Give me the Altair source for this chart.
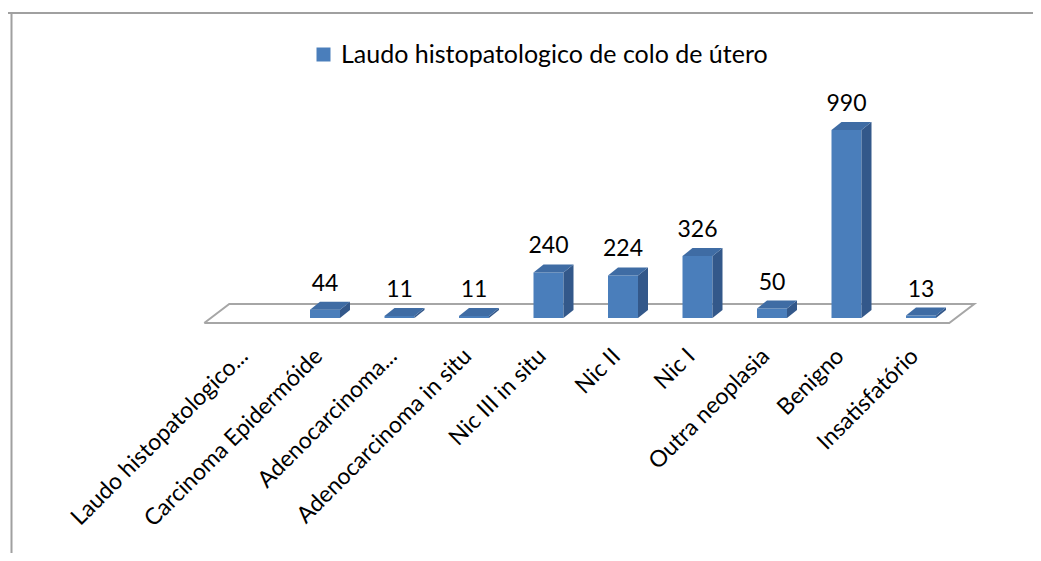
import altair as alt
import pandas as pd

# ---------------- data ----------------
categories = [
    "Laudo histopatologico...",
    "Carcinoma Epidermóide",
    "Adenocarcinoma...",
    "Adenocarcinoma in situ",
    "Nic III in situ",
    "Nic II",
    "Nic I",
    "Outra neoplasia",
    "Benigno",
    "Insatisfatório",
]
values = [None, 44, 11, 11, 240, 224, 326, 50, 990, 13]
series_name = "Laudo histopatologico de colo de útero"

# ---------------- layout constants ----------------
W, H = 1025, 545
STEP = 74.5      # px per category
FIRST = 242.5    # px of first category centre in the view
BASE = 310       # px of value 0 in the view
K = 0.1899       # px per unit of value
HW = 15          # half width of bar front (px)
DX, DY = 10, 8   # 3-D depth of bars (px)

PXX = 1.0 / STEP
PXY = 1.0 / K
x_dom = [-FIRST / STEP, (W - FIRST) / STEP]
e0 = -(H - BASE) / K
y_dom = [e0, e0 + H / K]

xs = alt.Scale(domain=x_dom, nice=False, zero=False)
ys = alt.Scale(domain=y_dom, nice=False, zero=False)

FONT = "Lato"
FRONT = "#4a7ebb"
TOP = "#3f6ca4"
SIDE = "#33588a"
FLOOR = "#a6a6a6"

# ---------------- tables ----------------
front_rows, side_rows, top_rows, lab_rows, cat_rows = [], [], [], [], []
for i, (c, v) in enumerate(zip(categories, values)):
    cat_rows.append({"i": i, "cat": c, "ly": -27 * PXY, "lx": i - 14 * PXX})
    if v is None:
        continue
    front_rows.append({"x": i - HW * PXX, "x2": i + HW * PXX, "y": 0, "y2": v,
                       "series": series_name})
    side_rows.append({"id": i, "xa": i + HW * PXX, "lo": 0, "hi": v})
    side_rows.append({"id": i, "xa": i + (HW + DX) * PXX, "lo": DY * PXY, "hi": v + DY * PXY})
    top_rows.append({"id": i, "yy": v, "xl": i - HW * PXX, "xr": i + HW * PXX})
    top_rows.append({"id": i, "yy": v + DY * PXY, "xl": i + (DX - HW) * PXX,
                     "xr": i + (HW + DX) * PXX})
    lab_rows.append({"x": i, "y": v, "label": str(v)})

n = len(categories)
floor_rows = [
    {"o": 0, "x": -0.5 - 9 * PXX, "y": -5 * PXY},
    {"o": 1, "x": -0.5 + 16 * PXX, "y": 14 * PXY},
    {"o": 2, "x": n - 0.5 + 16 * PXX, "y": 14 * PXY},
    {"o": 3, "x": n - 0.5 - 9 * PXX, "y": -5 * PXY},
    {"o": 4, "x": -0.5 - 9 * PXX, "y": -5 * PXY},
]

front_df = pd.DataFrame(front_rows)
side_df = pd.DataFrame(side_rows)
top_df = pd.DataFrame(top_rows)
lab_df = pd.DataFrame(lab_rows)
cat_df = pd.DataFrame(cat_rows)
floor_df = pd.DataFrame(floor_rows)

# ---------------- layers ----------------
floor = alt.Chart(floor_df).mark_line(color=FLOOR, strokeWidth=2).encode(
    x=alt.X("x:Q", scale=xs, axis=None),
    y=alt.Y("y:Q", scale=ys, axis=None),
    order="o:Q",
)

front = alt.Chart(front_df).mark_rect(strokeWidth=0).encode(
    x=alt.X("x:Q", scale=xs, axis=None),
    x2="x2:Q",
    y=alt.Y("y:Q", scale=ys, axis=None),
    y2="y2:Q",
    color=alt.Color(
        "series:N",
        scale=alt.Scale(domain=[series_name], range=[FRONT]),
        legend=alt.Legend(
            orient="none", legendX=303, legendY=34, title=None,
            symbolType="square", symbolSize=196, symbolStrokeWidth=0,
            labelFont=FONT, labelFontSize=25, labelColor="#000000",
            labelOffset=5, padding=0, labelLimit=0,
        ),
    ),
)

side = alt.Chart(side_df).mark_area(orient="vertical", color=SIDE).encode(
    x=alt.X("xa:Q", scale=xs, axis=None),
    y=alt.Y("lo:Q", scale=ys, axis=None),
    y2="hi:Q",
    detail="id:N",
)

top = alt.Chart(top_df).mark_area(orient="horizontal", color=TOP).encode(
    y=alt.Y("yy:Q", scale=ys, axis=None),
    x=alt.X("xl:Q", scale=xs, axis=None),
    x2="xr:Q",
    detail="id:N",
)

vlabels = alt.Chart(lab_df).mark_text(
    font=FONT, fontSize=23, color="#000000", baseline="alphabetic", align="center", dy=-19
).encode(
    x=alt.X("x:Q", scale=xs, axis=None),
    y=alt.Y("y:Q", scale=ys, axis=None),
    text="label:N",
)

xlabels = alt.Chart(cat_df).mark_text(
    font=FONT, fontSize=23, color="#000000", angle=315, align="right", baseline="top"
).encode(
    x=alt.X("lx:Q", scale=xs, axis=None),
    y=alt.Y("ly:Q", scale=ys, axis=None),
    text="cat:N",
)

frame_left = alt.Chart(pd.DataFrame({"a": [0]})).mark_rule(color="#a0a0a0", strokeWidth=2).encode(
    x=alt.value(3.5), y=alt.value(5), y2=alt.value(H)
)
frame_top = alt.Chart(pd.DataFrame({"a": [0]})).mark_rule(color="#a0a0a0", strokeWidth=2).encode(
    x=alt.value(0), x2=alt.value(W), y=alt.value(5)
)

chart = alt.layer(
    frame_left, frame_top, floor, front, side, top, vlabels, xlabels
).properties(
    width=W, height=H, padding=0,
    autosize=alt.AutoSizeParams(type="none"),
    background="#ffffff",
).configure_view(stroke=None)

chart.save("out.html", embed_options={"renderer": "svg", "actions": False})
